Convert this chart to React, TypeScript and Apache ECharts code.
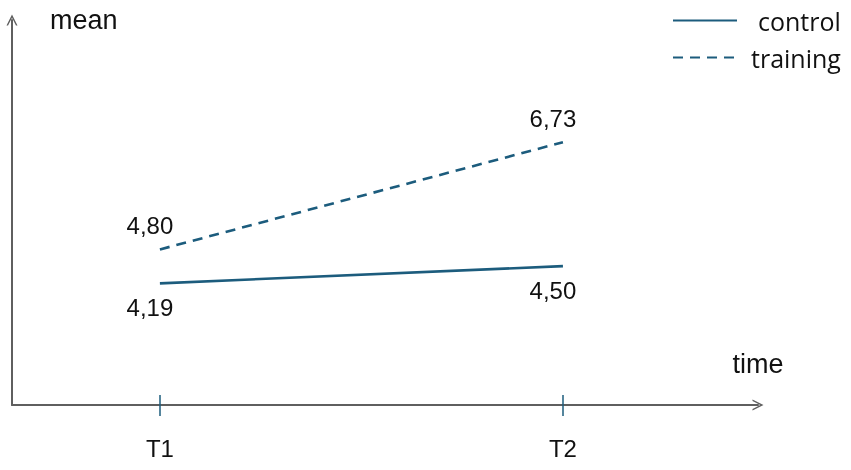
import React, { useEffect, useRef } from 'react';
import * as echarts from 'echarts';

const timePoints = ['T1', 'T2'];
const seriesNames = ['control', 'training'];
const controlMeans = [4.19, 4.5];
const trainingMeans = [4.8, 6.73];

const AXIS_COLOR = '#5f5f5f';
const LINE_COLOR = '#1c5c7d';
const TEXT_COLOR = '#111111';
const LABEL_FONT = '"Liberation Sans", Arial, sans-serif';
const LEGEND_FONT = '"Open Sans", sans-serif';
const CHEVRON = 'path://M0,10 L5,0 L10,10 L8.6,10 L5,2.9 L1.4,10 Z';

export default function App() {
  const ref = useRef<HTMLDivElement>(null);

  useEffect(() => {
    const chart = echarts.init(ref.current!, null, { renderer: 'svg' });
    const xs = timePoints.map((_, i) => i + 1);
    const fmt = (v: number) => v.toFixed(2).replace('.', ',');

    const makeSeries = (name: string, values: number[], dashed: boolean, pos: string) => ({
      name,
      type: 'line',
      xAxisIndex: 0,
      data: values.map((v, i) => [xs[i], v]),
      symbol: 'circle',
      symbolSize: 0,
      showSymbol: true,
      lineStyle: { color: LINE_COLOR, width: 2.6, type: dashed ? [10, 7] : 'solid' },
      itemStyle: { color: LINE_COLOR },
      label: {
        show: true,
        position: pos,
        distance: 12,
        offset: [-10, 0],
        fontSize: 24,
        fontFamily: LABEL_FONT,
        color: TEXT_COLOR,
        formatter: (p: any) => fmt(p.value[1]),
      },
    });

    const xMin = 0.633;
    const xMax = 2.484;

    chart.setOption({
      animation: false,
      grid: { left: 12, right: 93, top: 20, bottom: 65, containLabel: false },
      legend: {
        orient: 'vertical',
        left: 672,
        top: 8,
        padding: 0,
        itemWidth: 64,
        itemHeight: 26,
        itemGap: 12,
        itemStyle: { opacity: 0 },
        textStyle: { fontSize: 25, fontFamily: LEGEND_FONT, color: TEXT_COLOR },
        data: [
          { name: seriesNames[0], textStyle: { padding: [0, 0, 0, 16] } },
          { name: seriesNames[1], textStyle: { padding: [0, 0, 0, 9] } },
        ],
      },
      xAxis: [
        {
          type: 'value',
          min: xMin,
          max: xMax,
          position: 'bottom',
          name: 'time',
          nameLocation: 'end',
          nameGap: 0,
          nameTextStyle: {
            fontSize: 27,
            fontFamily: LABEL_FONT,
            color: TEXT_COLOR,
            align: 'center',
            verticalAlign: 'bottom',
            padding: [0, 0, 28, 0],
          },
          axisLine: {
            show: true,
            onZero: false,
            symbol: ['none', CHEVRON],
            symbolSize: [16, 11],
            lineStyle: { color: AXIS_COLOR, width: 2 },
          },
          axisTick: { show: true, length: 11, customValues: xs, lineStyle: { color: LINE_COLOR, width: 1.5 } },
          axisLabel: {
            show: true,
            customValues: xs,
            margin: 31,
            fontSize: 24,
            fontFamily: LABEL_FONT,
            color: TEXT_COLOR,
            formatter: (v: number) => timePoints[Math.round(v) - 1] ?? '',
          },
          splitLine: { show: false },
        },
        {
          type: 'value',
          min: xMin,
          max: xMax,
          position: 'bottom',
          axisLine: { show: false, onZero: false },
          axisTick: { show: true, inside: true, length: 10, customValues: xs, lineStyle: { color: LINE_COLOR, width: 1.5 } },
          axisLabel: { show: false },
          splitLine: { show: false },
        },
      ],
      yAxis: {
        type: 'value',
        min: 2,
        max: 8.93,
        name: 'mean',
        nameLocation: 'end',
        nameGap: 0,
        nameTextStyle: {
          fontSize: 27,
          fontFamily: LABEL_FONT,
          color: TEXT_COLOR,
          align: 'left',
          verticalAlign: 'middle',
          padding: [0, 0, 0, 38],
        },
        axisLine: {
          show: true,
          onZero: false,
          symbol: ['none', CHEVRON],
          symbolSize: [16, 11],
          lineStyle: { color: AXIS_COLOR, width: 2 },
        },
        axisTick: { show: false },
        axisLabel: { show: false },
        splitLine: { show: false },
      },
      series: [
        makeSeries(seriesNames[0], controlMeans, false, 'bottom'),
        makeSeries(seriesNames[1], trainingMeans, true, 'top'),
      ],
    });

    return () => chart.dispose();
  }, []);

  return <div ref={ref} style={{ position: 'fixed', left: 0, top: 0, width: 851, height: 470 }} />;
}
